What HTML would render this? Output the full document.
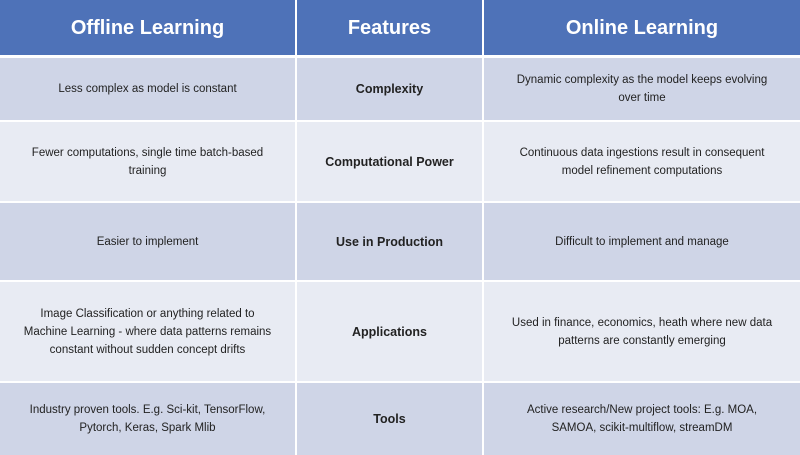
<!DOCTYPE html>
<html><head><meta charset="utf-8"><style>
body{margin:0;width:800px;height:439px;overflow:hidden;background:#fff;font-family:"Liberation Sans",sans-serif;}
.c{position:absolute;display:flex;align-items:center;justify-content:center;text-align:center;color:#222;font-size:11.5px;line-height:18px;box-sizing:border-box;padding:0 22px;}
.h{background:#4e72b8;color:#fff;font-size:20px;font-weight:bold;}
.a{background:#cfd5e7;}
.b{background:#e8ebf3;}
.f{font-weight:bold;font-size:12.5px;}
</style></head><body>
<div class="c h" style="left:0;top:0;width:295px;height:55px">Offline Learning</div>
<div class="c h" style="left:297px;top:0;width:185px;height:55px">Features</div>
<div class="c h" style="left:484px;top:0;width:316px;height:55px">Online Learning</div>

<div class="c a" style="left:0;top:58px;width:295px;height:62px">Less complex as model is constant</div>
<div class="c a f" style="left:297px;top:58px;width:185px;height:62px">Complexity</div>
<div class="c a" style="left:484px;top:58px;width:316px;height:62px;padding:0 12px">Dynamic complexity as the model keeps evolving<br>over time</div>

<div class="c b" style="left:0;top:122px;width:295px;height:79px">Fewer computations, single time batch-based<br>training</div>
<div class="c b f" style="left:297px;top:122px;width:185px;height:79px">Computational Power</div>
<div class="c b" style="left:484px;top:122px;width:316px;height:79px;padding:0 12px">Continuous data ingestions result in consequent<br>model refinement computations</div>

<div class="c a" style="left:0;top:203px;width:295px;height:77px">Easier to implement</div>
<div class="c a f" style="left:297px;top:203px;width:185px;height:77px">Use in Production</div>
<div class="c a" style="left:484px;top:203px;width:316px;height:77px">Difficult to implement and manage</div>

<div class="c b" style="left:0;top:282px;width:295px;height:99px;padding:0 12px">Image Classification or anything related to<br>Machine Learning - where data patterns remains<br>constant without sudden concept drifts</div>
<div class="c b f" style="left:297px;top:282px;width:185px;height:99px">Applications</div>
<div class="c b" style="left:484px;top:282px;width:316px;height:99px;padding:0 12px">Used in finance, economics, heath where new data<br>patterns are constantly emerging</div>

<div class="c a" style="left:0;top:383px;width:295px;height:72px;padding:0 12px">Industry proven tools. E.g. Sci-kit, TensorFlow,<br>Pytorch, Keras, Spark Mlib</div>
<div class="c a f" style="left:297px;top:383px;width:185px;height:72px">Tools</div>
<div class="c a" style="left:484px;top:383px;width:316px;height:72px;padding:0 12px">Active research/New project tools: E.g. MOA,<br>SAMOA, scikit-multiflow, streamDM</div>
</body></html>
